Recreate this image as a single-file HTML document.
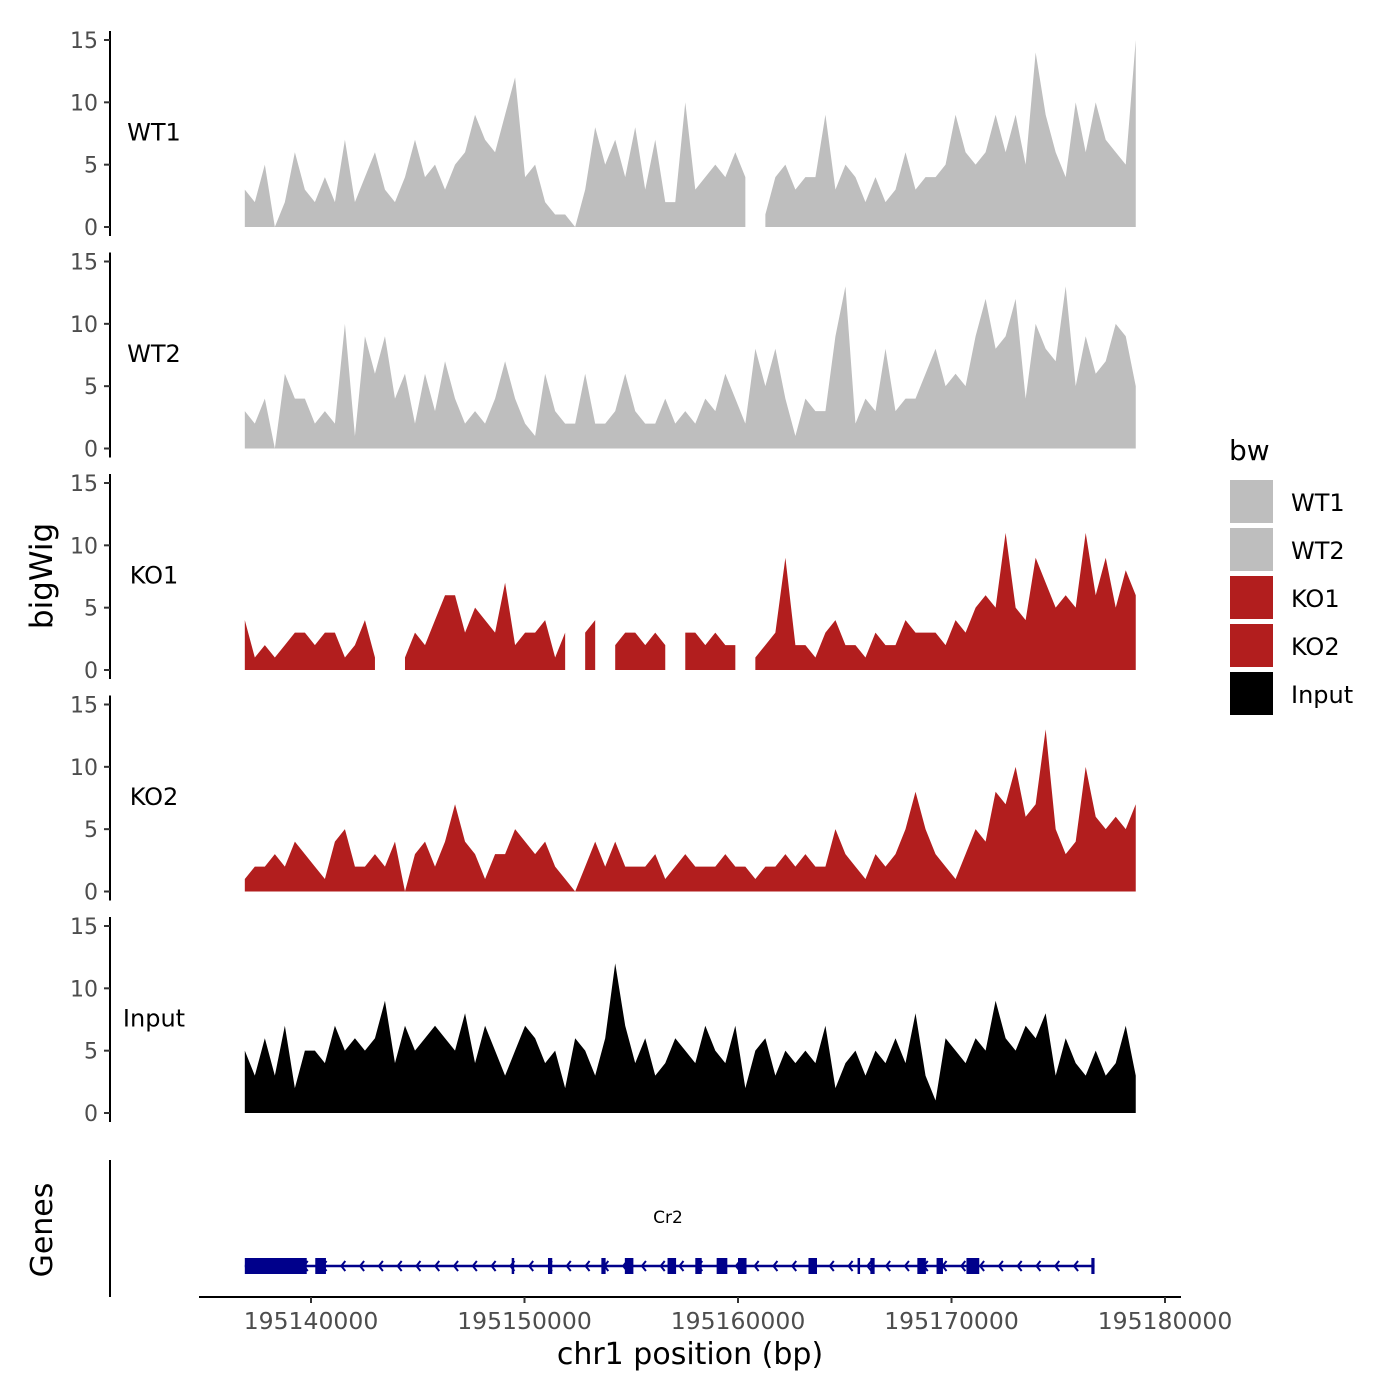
<!DOCTYPE html>
<html><head><meta charset="utf-8"><style>
body{margin:0;background:#fff}
svg{display:block;font-family:"DejaVu Sans","Liberation Sans",sans-serif}
</style></head><body>
<svg id="chart" width="1400" height="1400" viewBox="0 0 1400 1400" xmlns="http://www.w3.org/2000/svg">
<g id="panels"></g>
<g id="genes"></g>
<text transform="translate(52,576) rotate(-90)" text-anchor="middle" font-size="31">bigWig</text>
<text transform="translate(52,1230) rotate(-90)" text-anchor="middle" font-size="30">Genes</text>
<line x1="110" y1="1160" x2="110" y2="1297" stroke="#000" stroke-width="2"/>
<line x1="199" y1="1297" x2="1181" y2="1297" stroke="#000" stroke-width="2"/>
<g id="xticks"></g>
<text x="690" y="1364" text-anchor="middle" font-size="30">chr1 position (bp)</text>
<g>
<text x="1229" y="460" font-size="28">bw</text>
<g id="legend"></g>
</g>
</svg>
<script>
const NS="http://www.w3.org/2000/svg";
const sampleNames=["WT1","WT2","KO1","KO2","Input"];
const sampleColors=["#bebebe","#bebebe","#b21e1e","#b21e1e","#000000"];
const startBp=195136900, endBp=195178630;
const xTickValues=[195140000,195150000,195160000,195170000,195180000];
const yTickValues=[0,5,10,15];
const n=null;
const wt1=[3,2,5,0,2,6,3,2,4,2,7,2,4,6,3,2,4,7,4,5,3,5,6,9,7,6,9,12,4,5,2,1,1,0,3,8,5,7,4,8,3,7,2,2,10,3,4,5,4,6,4,n,1,4,5,3,4,4,9,3,5,4,2,4,2,3,6,3,4,4,5,9,6,5,6,9,6,9,5,14,9,6,4,10,6,10,7,6,5,15];
const wt2=[3,2,4,0,6,4,4,2,3,2,10,1,9,6,9,4,6,2,6,3,7,4,2,3,2,4,7,4,2,1,6,3,2,2,6,2,2,3,6,3,2,2,4,2,3,2,4,3,6,4,2,8,5,8,4,1,4,3,3,9,13,2,4,3,8,3,4,4,6,8,5,6,5,9,12,8,9,12,4,10,8,7,13,5,9,6,7,10,9,5];
const ko1=[4,1,2,1,2,3,3,2,3,3,1,2,4,1,n,n,1,3,2,4,6,6,3,5,4,3,7,2,3,3,4,1,3,n,3,4,n,2,3,3,2,3,2,n,3,3,2,3,2,2,n,1,2,3,9,2,2,1,3,4,2,2,1,3,2,2,4,3,3,3,2,4,3,5,6,5,11,5,4,9,7,5,6,5,11,6,9,5,8,6];
const ko2=[1,2,2,3,2,4,3,2,1,4,5,2,2,3,2,4,0,3,4,2,4,7,4,3,1,3,3,5,4,3,4,2,1,0,2,4,2,4,2,2,2,3,1,2,3,2,2,2,3,2,2,1,2,2,3,2,3,2,2,5,3,2,1,3,2,3,5,8,5,3,2,1,3,5,4,8,7,10,6,7,13,5,3,4,10,6,5,6,5,7];
const input=[5,3,6,3,7,2,5,5,4,7,5,6,5,6,9,4,7,5,6,7,6,5,8,4,7,5,3,5,7,6,4,5,2,6,5,3,6,12,7,4,6,3,4,6,5,4,7,5,4,7,2,5,6,3,5,4,5,4,7,2,4,5,3,5,4,6,4,8,3,1,6,5,4,6,5,9,6,5,7,6,8,3,6,4,3,5,3,4,7,3];
const seriesValues=[wt1,wt2,ko1,ko2,input];
const exonStarts=[195136900,195140200,195149400,195151100,195153600,195154700,195156700,195158000,195159000,195160000,195163300,195165600,195166200,195168400,195169300,195170700,195176550];
const exonEnds=[195139800,195140700,195149500,195151300,195153800,195155100,195157100,195158300,195159500,195160400,195163700,195165700,195166400,195168800,195169600,195171300,195176700];
const geneStart=195136900, geneEnd=195176700;

const xs=bp=>311+(bp-195140000)*(854/40000);
const panelTop=[40,261.5,483,704.5,926];
const ys=(p,v)=>panelTop[p]+187-v*(187/15);
function mk(tag,attrs,parent){const e=document.createElementNS(NS,tag);for(const k in attrs)e.setAttribute(k,attrs[k]);parent.appendChild(e);return e;}
const panels=document.getElementById('panels');
sampleNames.forEach((nm,p)=>{
  const g=mk('g',{},panels);
  
  
  const vals=seriesValues[p];
  const step=(endBp-startBp)/(vals.length-1);
  let d='',open=false,lastX=0;
  vals.forEach((v,i)=>{
    const x=xs(startBp+i*step);
    if(v===null){ if(open){d+=`L${lastX},${ys(p,0)}Z`;open=false;} return;}
    if(!open){d+=`M${x},${ys(p,0)}`;open=true;}
    d+=`L${x},${ys(p,v)}`;lastX=x;
  });
  if(open)d+=`L${lastX},${ys(p,0)}Z`;
  const path=mk('path',{d:d,fill:sampleColors[p]},g);
  
  
  const ax=mk('line',{x1:110,x2:110,y1:ys(p,15)-9,y2:ys(p,0)+9,stroke:'#000','stroke-width':2},g);
  
  
  yTickValues.forEach(t=>{
    const y=ys(p,t);
    const tk=mk('line',{x1:104,x2:110,y1:y,y2:y,stroke:'#333','stroke-width':2},g);
    
    
    const tl=mk('text',{x:98,y:y+8,'text-anchor':'end','font-size':22,fill:'#4d4d4d'},g);
    
    
    tl.textContent=t;
  });
  const lb=mk('text',{x:154,y:ys(p,7.6)+8,'text-anchor':'middle','font-size':24},g);
  
  
  lb.textContent=nm;
});
const xt=document.getElementById('xticks');
xTickValues.forEach(v=>{
  const x=xs(v);
  const l=mk('line',{x1:x,x2:x,y1:1297,y2:1303,stroke:'#333','stroke-width':2},xt);
  
  
  const t=mk('text',{x:x,y:1329,'text-anchor':'middle','font-size':23.5,fill:'#4d4d4d'},xt);
  
  
  t.textContent=v;
});
const gg=document.getElementById('genes');
const gy=1266;
const gl=mk('line',{x1:xs(geneStart),x2:xs(geneEnd),y1:gy,y2:gy,stroke:'#00008b','stroke-width':2.5},gg);


for(let bp=geneStart+1000;bp<geneEnd-300;bp+=880){
  const x=xs(bp);
  const a=mk('path',{d:`M${x+4},${gy-5}L${x},${gy}L${x+4},${gy+5}`,fill:'none',stroke:'#00008b','stroke-width':2},gg);
  
  
}
exonStarts.forEach((s,i)=>{
  const x1=xs(s),x2=xs(exonEnds[i]);
  const r=mk('rect',{x:x1,y:gy-8,width:Math.max(2.5,x2-x1),height:16,fill:'#00008b'},gg);
  
  
});
const gt=mk('text',{x:668,y:1223,'text-anchor':'middle','font-size':17},gg);


gt.textContent='Cr2';
const lg=document.getElementById('legend');
sampleNames.forEach((nm,i)=>{
  const y=480+i*48;
  const r=mk('rect',{x:1230,y:y,width:43,height:43,fill:sampleColors[i]},lg);
  
  
  const t=mk('text',{x:1291,y:y+31,'font-size':24},lg);
  
  
  t.textContent=nm;
});
</script>
</body></html>
